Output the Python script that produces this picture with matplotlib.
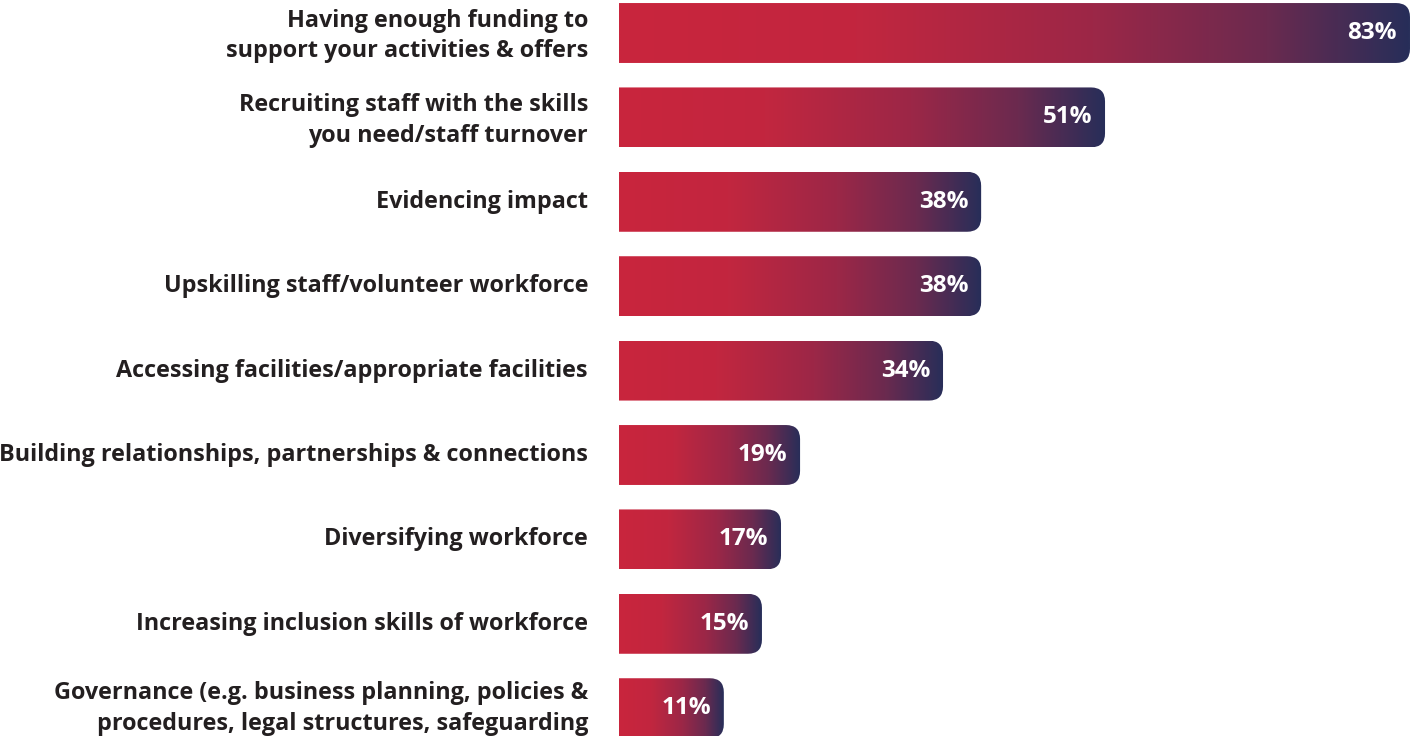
import numpy as np
import matplotlib
matplotlib.use("Agg")
import matplotlib.pyplot as plt
from matplotlib.colors import LinearSegmentedColormap
from matplotlib.patches import FancyBboxPatch

labels = [
    "Having enough funding to\nsupport your activities & offers",
    "Recruiting staff with the skills\nyou need/staff turnover",
    "Evidencing impact",
    "Upskilling staff/volunteer workforce",
    "Accessing facilities/appropriate facilities",
    "Building relationships, partnerships & connections",
    "Diversifying workforce",
    "Increasing inclusion skills of workforce",
    "Governance (e.g. business planning, policies &\nprocedures, legal structures, safeguarding",
]
values = [83, 51, 38, 38, 34, 19, 17, 15, 11]

plt.rcParams["font.family"] = ["Open Sans", "DejaVu Sans"]

W, H, DPI = 1411, 736, 100
fig = plt.figure(figsize=(W / DPI, H / DPI), dpi=DPI)
ax_left = 619 / W
ax = fig.add_axes([ax_left, 0, 1 - ax_left, 1])

step_px = 84.4      # distance between bar centres
first_px = 33       # centre of the first bar from the top
ax.set_xlim(0, (W - 619) / 9.53)
ax.set_ylim((H - first_px) / step_px, -first_px / step_px)
ax.axis("off")

grad = LinearSegmentedColormap.from_list(
    "bar", [(0.0, "#C9253D"), (0.3, "#C2263F"), (0.6, "#9C2747"),
            (0.82, "#6B2A4F"), (1.0, "#272E59")])
row = grad(np.linspace(0, 1, 256))[None, :, :]

bar_h = 0.71
r_px = 14
r_x = r_px / 9.53
r_y = r_px / step_px

for i, (lab, v) in enumerate(zip(labels, values)):
    y0 = i - bar_h / 2
    # rounded box starting left of the axes so only the right corners show
    box = FancyBboxPatch((-3, y0), v + 3, bar_h,
                         boxstyle=f"round,pad=0,rounding_size={r_x}",
                         mutation_aspect=r_y / r_x,
                         facecolor="none", edgecolor="none")
    ax.add_patch(box)
    im = ax.imshow(row, extent=(0, v, i + bar_h / 2, y0), aspect="auto",
                   interpolation="bilinear", zorder=2)
    im.set_clip_path(box)

    ax.annotate(f"{v}%", (v, i), xytext=(-13 * 0.72, 0), textcoords="offset points",
                ha="right", va="center", color="white", fontsize=17.5,
                fontweight="bold", zorder=3)
    # nudge two-line labels down a touch, except the last one at the bottom edge
    dy = -3 * 0.72 if ("\n" in lab and i < len(labels) - 1) else 0
    ax.annotate(lab, (0, i), xytext=(-31 * 0.72, dy), textcoords="offset points",
                ha="right", va="center", ma="right", color="#231F20",
                fontsize=16.8, fontweight="bold", linespacing=1.38,
                annotation_clip=False)

fig.savefig("out.png", dpi=DPI)
